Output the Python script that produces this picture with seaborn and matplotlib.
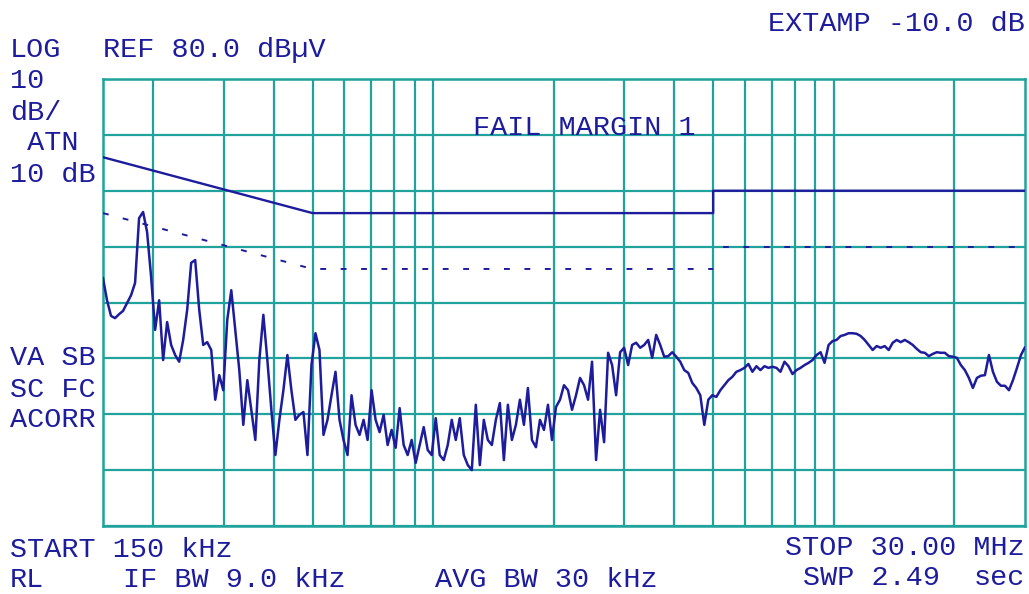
import numpy as np
import pandas as pd
import matplotlib
matplotlib.use("Agg")
import matplotlib.pyplot as plt
import seaborn as sns

# ---------------- data ----------------
START_MHZ = 0.15
STOP_MHZ = 30.0
REF_LEVEL = 80.0          # dBuV, top of screen
DB_PER_DIV = 10

# measured trace (dBuV), sweep points evenly spaced in log frequency
level = [
    44.4, 40.4, 37.6, 37.2, 37.9, 38.5, 39.9, 41.3, 43.5, 55.1,
    56.2, 52.6, 44.6, 35.1, 40.4, 29.7, 36.5, 32.4, 30.6, 29.4,
    33.3, 38.7, 47.1, 47.6, 38.7, 32.4, 32.9, 31.5, 22.6, 27.0,
    24.3, 36.9, 42.2, 35.1, 27.9, 18.1, 26.1, 20.8, 15.4, 29.7,
    37.8, 29.7, 20.8, 12.7, 19.0, 24.3, 30.6, 24.3, 19.0, 19.9,
    20.4, 12.7, 28.8, 34.5, 31.5, 16.3, 19.0, 23.4, 27.6, 19.0,
    15.4, 12.7, 23.4, 18.1, 16.3, 19.0, 15.4, 24.3, 19.0, 16.8,
    19.9, 14.5, 17.2, 14.0, 21.1, 14.5, 12.7, 15.4, 11.3, 14.5,
    17.7, 13.6, 12.7, 19.3, 12.7, 11.8, 14.5, 19.0, 15.4, 19.3,
    12.7, 10.9, 10.0, 21.7, 10.9, 19.0, 15.4, 14.5, 19.0, 22.0,
    11.8, 21.7, 15.4, 18.1, 22.6, 18.1, 24.7, 15.4, 14.1, 19.0,
    17.2, 21.7, 15.4, 21.3, 22.6, 25.2, 24.3, 20.8, 23.4, 26.5,
    25.2, 22.6, 29.4, 11.8, 20.8, 15.0, 31.0, 28.8, 23.4, 31.1,
    31.9, 28.8, 32.4, 32.8, 31.9, 32.4, 33.3, 30.1, 34.2, 32.4,
    30.3, 30.4, 31.1, 30.3, 29.4, 27.9, 27.4, 25.6, 24.7, 23.4,
    18.1, 22.6, 23.4, 23.1, 24.3, 25.2, 26.1, 26.7, 27.6, 27.9,
    28.3, 29.0, 27.6, 28.6, 27.9, 28.6, 28.3, 28.5, 28.3, 27.6,
    29.4, 28.6, 27.2, 27.9, 28.3, 28.8, 29.2, 29.7, 30.6, 31.1,
    29.2, 32.4, 33.1, 33.3, 34.0, 34.2, 34.5, 34.5, 34.4, 34.0,
    33.3, 32.4, 31.5, 32.2, 31.9, 32.2, 31.5, 32.8, 33.3, 32.9,
    33.3, 32.9, 32.4, 31.7, 31.1, 31.0, 30.4, 30.8, 31.1, 31.0,
    31.0, 30.4, 30.3, 30.1, 28.8, 27.9, 26.5, 24.7, 26.5, 26.9,
    27.0, 30.6, 27.6, 25.8, 25.1, 25.1, 24.3, 26.1, 28.3, 30.6, 32.0,
]

# quasi-peak limit line (solid)
qp_freq = [0.15, 0.5, 5.0, 5.0, 30.0]
qp_level = [66, 56, 56, 60, 60]
# average limit line (dotted), two pieces
avg1_freq = [0.15, 0.5, 5.0]
avg1_level = [56, 46, 46]
avg2_freq = [5.3, 30.0]
avg2_level = [50, 50]

grid_freqs = [0.2, 0.3, 0.4, 0.5, 0.6, 0.7, 0.8, 0.9,
              1, 2, 3, 4, 5, 6, 7, 8, 9, 10, 20]

# ---------------- style ----------------
NAVY = "#1c1c9c"
TEAL = "#1fa39c"
W, H = 1029, 594

sns.set_theme(style="white")
plt.rcParams["font.family"] = ["Liberation Mono", "DejaVu Sans Mono"]

fig = plt.figure(figsize=(W / 100, H / 100), dpi=100)
fig.patch.set_facecolor("white")
ax = fig.add_axes([103 / W, 1 - 526 / H, 922 / W, 447 / H])
ax.set_facecolor("white")
ax.set_xscale("log")

trace = pd.DataFrame({
    "freq": np.geomspace(START_MHZ, STOP_MHZ, len(level)),
    "level": level,
})
sns.lineplot(data=trace, x="freq", y="level", ax=ax, color=NAVY, lw=1.8,
             estimator=None, sort=False, zorder=4)

sns.lineplot(x=qp_freq, y=qp_level, ax=ax, color=NAVY, lw=1.7,
             estimator=None, sort=False, zorder=4)
for fx, fy in ((avg1_freq, avg1_level), (avg2_freq, avg2_level)):
    sns.lineplot(x=fx, y=fy, ax=ax, color=NAVY, lw=1.4,
                 linestyle=(0, (3.0, 7.5)), estimator=None, sort=False, zorder=4)

ax.set_xlim(START_MHZ, STOP_MHZ)
ax.set_ylim(REF_LEVEL - 8 * DB_PER_DIV, REF_LEVEL)
ax.set_xticks(grid_freqs)
ax.xaxis.set_minor_locator(matplotlib.ticker.NullLocator())
ax.set_yticks(np.arange(0, REF_LEVEL + 1, DB_PER_DIV))
ax.set_xticklabels([])
ax.set_yticklabels([])
ax.tick_params(length=0)
ax.set_xlabel("")
ax.set_ylabel("")
ax.grid(True, which="major", color=TEAL, lw=1.6)
ax.set_axisbelow(True)
for s in ax.spines.values():
    s.set_color(TEAL)
    s.set_linewidth(1.8)
    s.set_visible(True)

FS = 20.5


def label(xpx, ypx, s, ha="left"):
    fig.text(xpx / W, 1 - ypx / H, s, ha=ha, va="baseline", fontsize=FS,
             color=NAVY, family=["Liberation Mono", "DejaVu Sans Mono"])


label(1025, 31, "EXTAMP -10.0 dB", ha="right")
label(10, 57, "LOG")
label(103, 57, "REF 80.0 dB\u00b5V")
label(10, 88, "10")
label(10, 120, "dB/")
label(10, 150, " ATN")
label(10, 182, "10 dB")
label(473, 135, "FAIL MARGIN 1")
label(10, 365, "VA SB")
label(10, 397, "SC FC")
label(10, 427, "ACORR")
label(10, 557, "START 150 kHz")
label(1025, 555, "STOP 30.00 MHz", ha="right")
label(10, 587, "RL")
label(123, 587, "IF BW 9.0 kHz")
label(435, 587, "AVG BW 30 kHz")
label(803, 585, "SWP 2.49")
label(1025, 585, "sec", ha="right")

fig.savefig("out.png", dpi=100, facecolor="white")
